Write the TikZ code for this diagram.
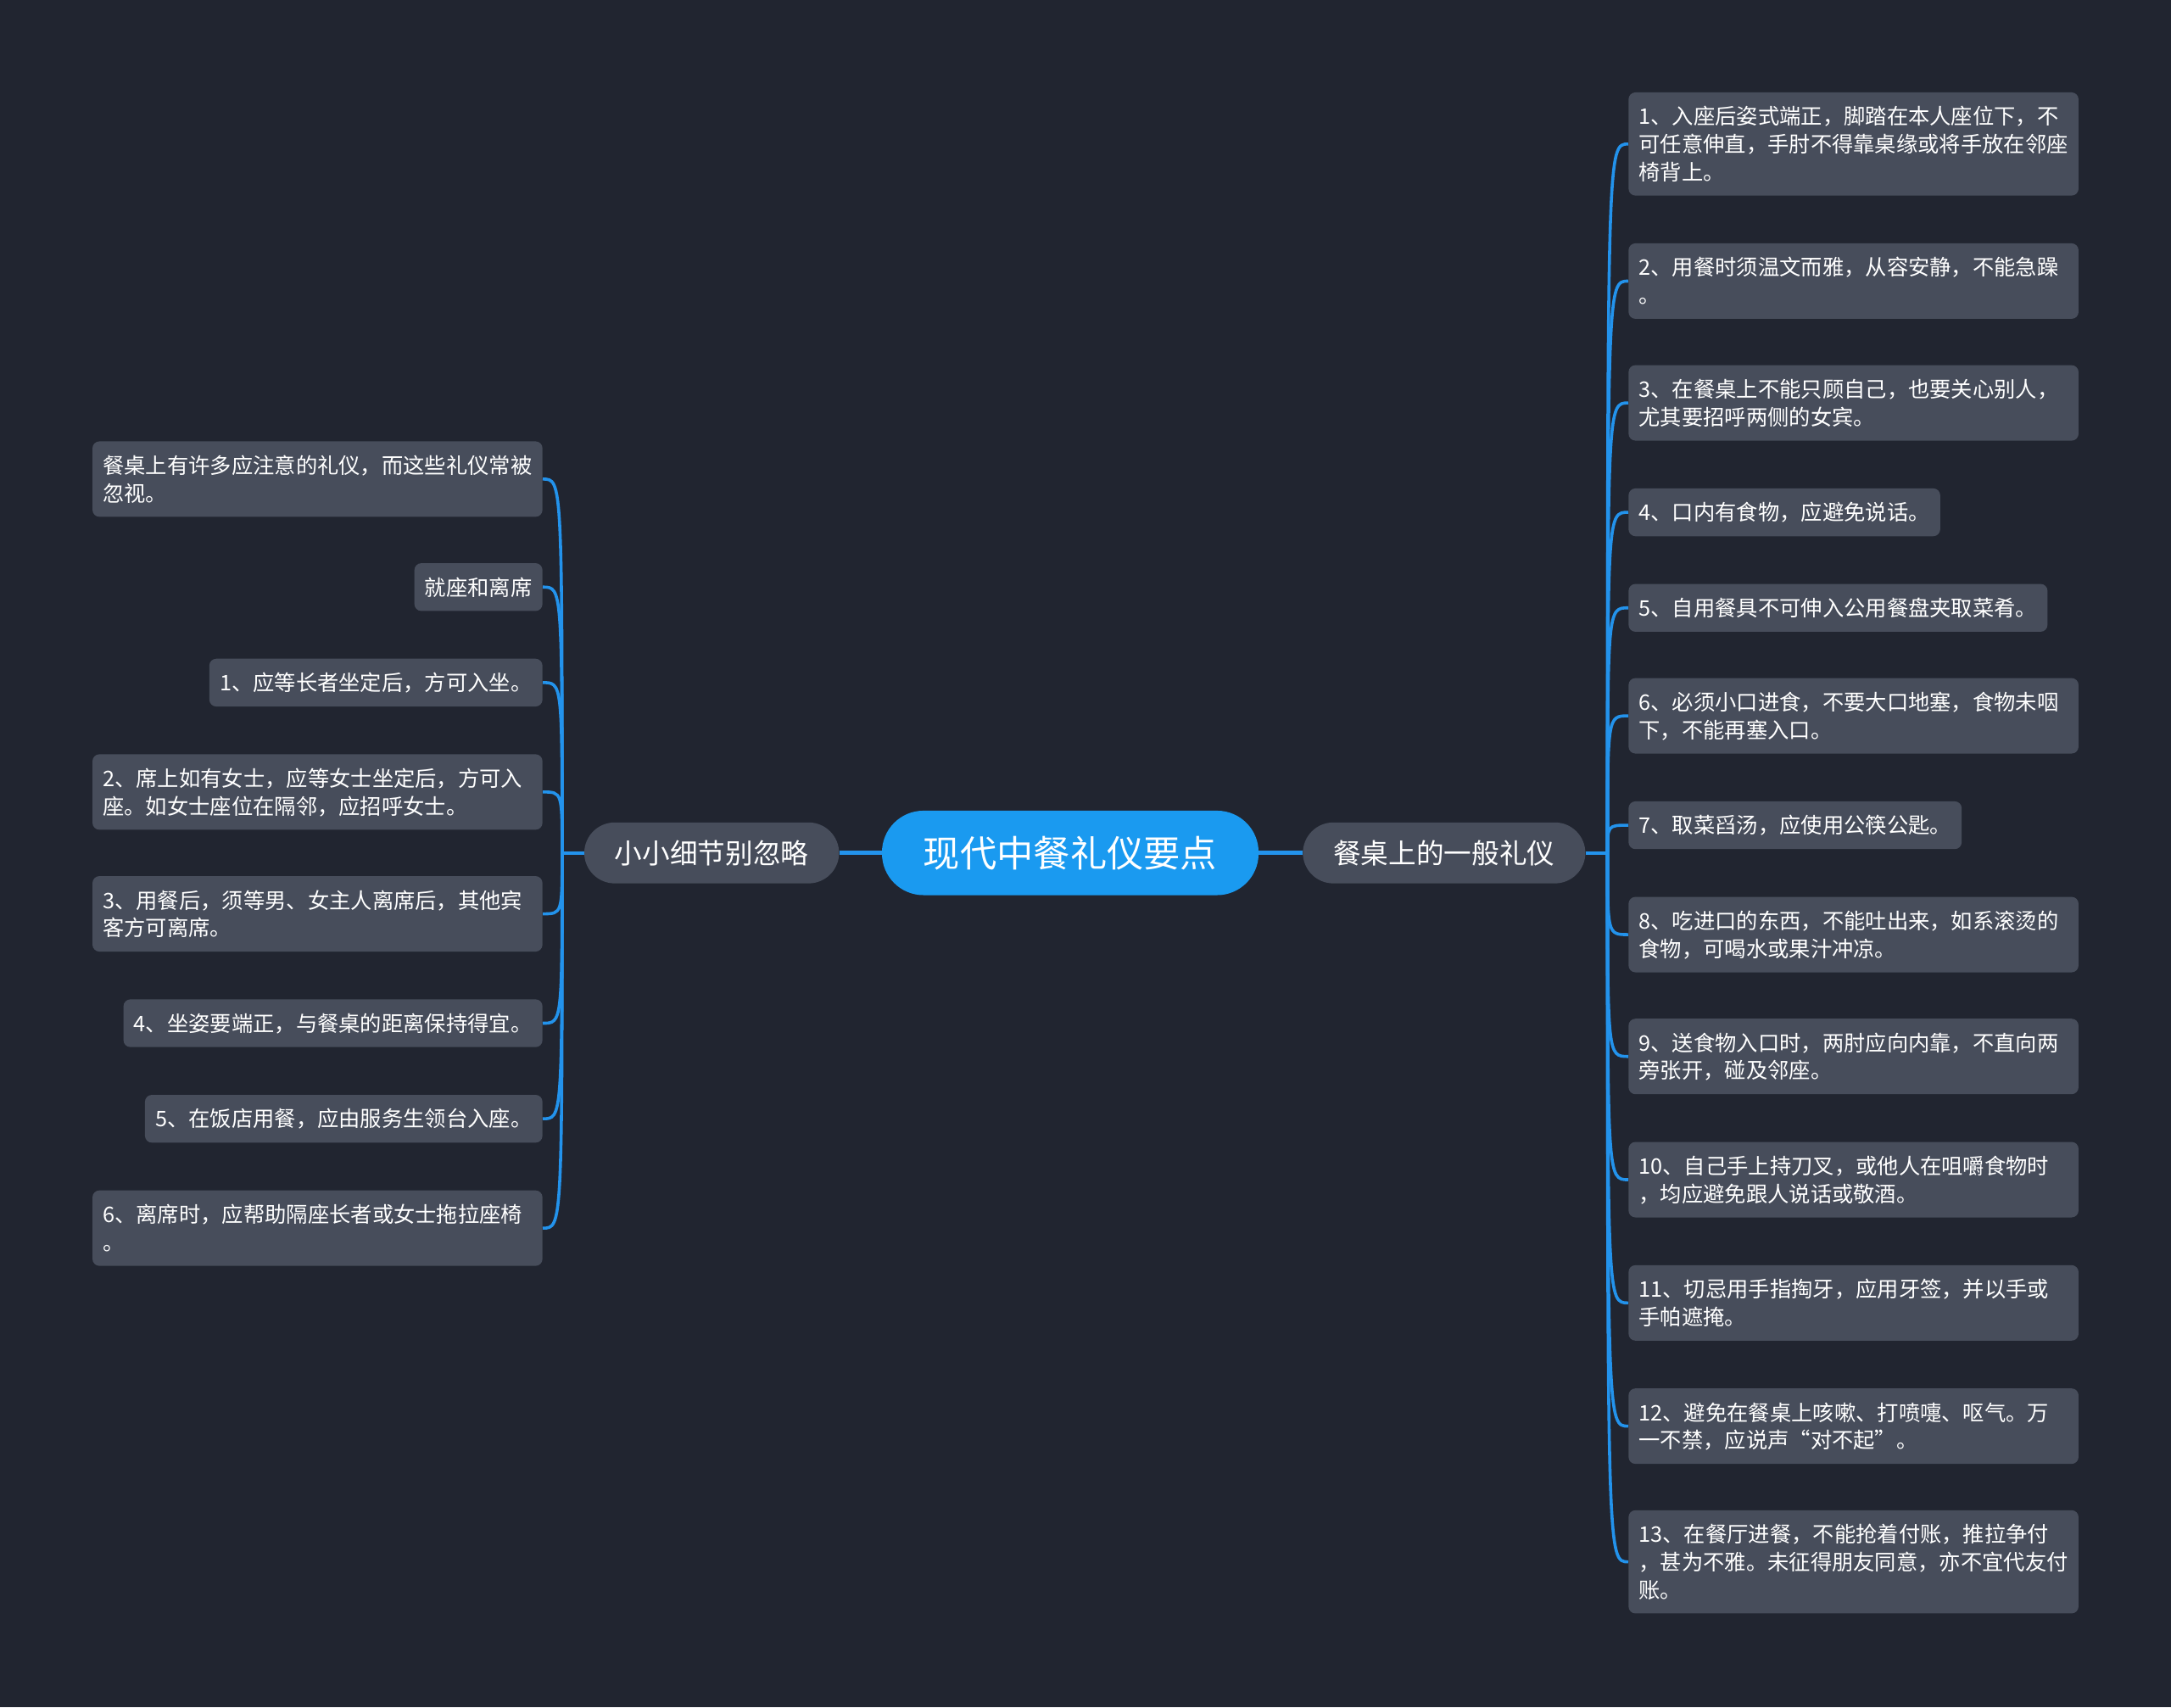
\documentclass[tikz,border=0pt]{standalone}
\usepackage{fontspec}
\newfontfamily\cjk{Noto Sans CJK SC}
\usepackage{tikz}
\usetikzlibrary{shapes}
\definecolor{bgdark}{HTML}{212530}
\definecolor{boxgray}{HTML}{474D5B}
\definecolor{rootblue}{HTML}{1A9AF0}
\definecolor{wireblue}{HTML}{2393EC}
\newcommand\topstrut{\rule{0pt}{16bp}}
\newcommand\botstrut{\rule[-4bp]{0pt}{4bp}}

\begin{document}
\begin{tikzpicture}[
  leaf/.style={fill=boxgray,rounded corners=5bp,text=white,inner xsep=7.5bp,inner ysep=7.25bp,
    font=\cjk\fontsize{15.5bp}{20bp}\selectfont,align=left,
    execute at begin node=\topstrut,execute at end node=\botstrut},
  wide/.style={leaf,text width=310bp},
  branch/.style={fill=boxgray,rounded corners=22bp,minimum height=44bp,inner xsep=22bp,
    text=white,font=\cjk\fontsize{20bp}{24bp}\selectfont},
  trunk/.style={draw=wireblue,line width=3bp},
  wire/.style={draw=wireblue,line width=2.2bp}]

\fill [bgdark] (0bp,0bp) rectangle (1568bp,-1233bp);
\useasboundingbox (0bp,0bp) rectangle (1568bp,-1233bp);

\node (root) at (773bp,-616bp)[fill=rootblue,rounded corners=30bp,minimum height=61bp,inner xsep=30bp,text=white,font=\cjk\fontsize{26.5bp}{30bp}\selectfont] {现代中餐礼仪要点};
\node (R) at (1043bp,-616bp)[branch] {餐桌上的一般礼仪};
\node (L) at (514bp,-616bp)[branch] {小小细节别忽略};
\coordinate (jR) at (1161bp,-616bp);
\coordinate (jL) at (406bp,-616bp);

% right side
\node (R1) at (1176bp,-104bp)[wide,anchor=west] {1、入座后姿式端正，脚踏在本人座位下，不\\可任意伸直，手肘不得靠桌缘或将手放在邻座\\椅背上。};
\node (R2) at (1176bp,-203bp)[wide,anchor=west] {2、用餐时须温文而雅，从容安静，不能急躁\\。};
\node (R3) at (1176bp,-291bp)[wide,anchor=west] {3、在餐桌上不能只顾自己，也要关心别人，\\尤其要招呼两侧的女宾。};
\node (R4) at (1176bp,-370bp)[leaf,anchor=west] {4、口内有食物，应避免说话。};
\node (R5) at (1176bp,-439bp)[leaf,anchor=west] {5、自用餐具不可伸入公用餐盘夹取菜肴。};
\node (R6) at (1176bp,-517bp)[wide,anchor=west] {6、必须小口进食，不要大口地塞，食物未咽\\下，不能再塞入口。};
\node (R7) at (1176bp,-596bp)[leaf,anchor=west] {7、取菜舀汤，应使用公筷公匙。};
\node (R8) at (1176bp,-675bp)[wide,anchor=west] {8、吃进口的东西，不能吐出来，如系滚烫的\\食物，可喝水或果汁冲凉。};
\node (R9) at (1176bp,-763bp)[wide,anchor=west] {9、送食物入口时，两肘应向内靠，不直向两\\旁张开，碰及邻座。};
\node (R10) at (1176bp,-852bp)[wide,anchor=west] {10、自己手上持刀叉，或他人在咀嚼食物时\\，均应避免跟人说话或敬酒。};
\node (R11) at (1176bp,-941bp)[wide,anchor=west] {11、切忌用手指掏牙，应用牙签，并以手或\\手帕遮掩。};
\node (R12) at (1176bp,-1030bp)[wide,anchor=west] {12、避免在餐桌上咳嗽、打喷嚏、呕气。万\\一不禁，应说声“对不起”。};
\node (R13) at (1176bp,-1128bp)[wide,anchor=west] {13、在餐厅进餐，不能抢着付账，推拉争付\\，甚为不雅。未征得朋友同意，亦不宜代友付\\账。};

% left side
\node (L1) at (392bp,-346bp)[wide,anchor=east] {餐桌上有许多应注意的礼仪，而这些礼仪常被\\忽视。};
\node (L2) at (392bp,-424bp)[leaf,anchor=east] {就座和离席};
\node (L3) at (392bp,-493bp)[leaf,anchor=east] {1、应等长者坐定后，方可入坐。};
\node (L4) at (392bp,-572bp)[wide,anchor=east] {2、席上如有女士，应等女士坐定后，方可入\\座。如女士座位在隔邻，应招呼女士。};
\node (L5) at (392bp,-660bp)[wide,anchor=east] {3、用餐后，须等男、女主人离席后，其他宾\\客方可离席。};
\node (L6) at (392bp,-739bp)[leaf,anchor=east] {4、坐姿要端正，与餐桌的距离保持得宜。};
\node (L7) at (392bp,-808bp)[leaf,anchor=east] {5、在饭店用餐，应由服务生领台入座。};
\node (L8) at (392bp,-887bp)[wide,anchor=east] {6、离席时，应帮助隔座长者或女士拖拉座椅\\。};

\draw [trunk] (root) -- (R);
\draw [trunk] (root) -- (L);
\draw [wire] (R) -- (jR);
\draw [wire] (L) -- (jL);

\draw [wire] (jR) .. controls (jR |- R1) .. (R1.west);
\draw [wire] (jR) .. controls (jR |- R2) .. (R2.west);
\draw [wire] (jR) .. controls (jR |- R3) .. (R3.west);
\draw [wire] (jR) .. controls (jR |- R4) .. (R4.west);
\draw [wire] (jR) .. controls (jR |- R5) .. (R5.west);
\draw [wire] (jR) .. controls (jR |- R6) .. (R6.west);
\draw [wire] (jR) .. controls (jR |- R7) .. (R7.west);
\draw [wire] (jR) .. controls (jR |- R8) .. (R8.west);
\draw [wire] (jR) .. controls (jR |- R9) .. (R9.west);
\draw [wire] (jR) .. controls (jR |- R10) .. (R10.west);
\draw [wire] (jR) .. controls (jR |- R11) .. (R11.west);
\draw [wire] (jR) .. controls (jR |- R12) .. (R12.west);
\draw [wire] (jR) .. controls (jR |- R13) .. (R13.west);

\draw [wire] (jL) .. controls (jL |- L1) .. (L1.east);
\draw [wire] (jL) .. controls (jL |- L2) .. (L2.east);
\draw [wire] (jL) .. controls (jL |- L3) .. (L3.east);
\draw [wire] (jL) .. controls (jL |- L4) .. (L4.east);
\draw [wire] (jL) .. controls (jL |- L5) .. (L5.east);
\draw [wire] (jL) .. controls (jL |- L6) .. (L6.east);
\draw [wire] (jL) .. controls (jL |- L7) .. (L7.east);
\draw [wire] (jL) .. controls (jL |- L8) .. (L8.east);
\end{tikzpicture}
\end{document}
